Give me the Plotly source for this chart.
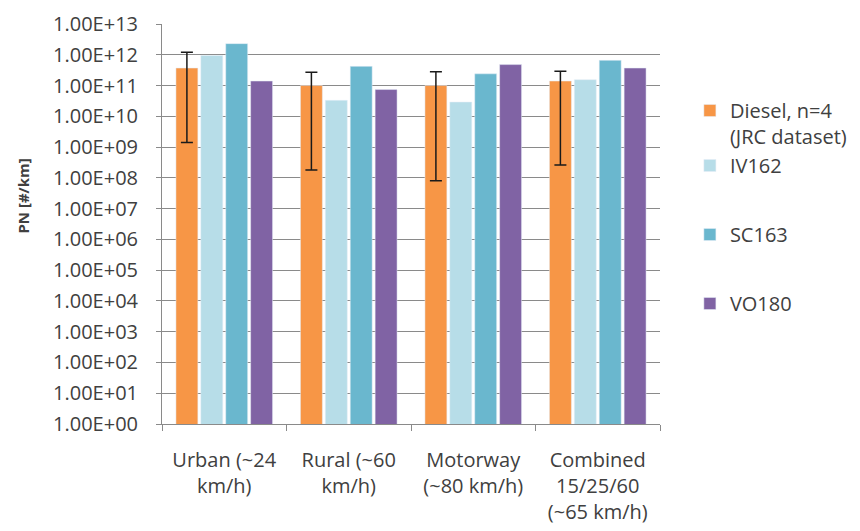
import plotly.graph_objects as go

categories = ["Urban (~24<br>km/h)", "Rural (~60<br>km/h)", "Motorway<br>(~80 km/h)", "Combined<br>15/25/60<br>(~65 km/h)"]
series_names = ["Diesel, n=4<br>(JRC dataset)", "IV162", "SC163", "VO180"]
diesel = [3.7e11, 1.0e11, 1.0e11, 1.4e11]
diesel_err_top = [1.2e12, 2.7e11, 2.8e11, 2.9e11]
diesel_err_bottom = [1.4e9, 1.8e8, 8.0e7, 2.6e8]
iv162 = [9.5e11, 3.3e10, 2.9e10, 1.55e11]
sc163 = [2.3e12, 4.2e11, 2.4e11, 6.6e11]
vo180 = [1.4e11, 7.4e10, 4.8e11, 3.7e11]
tick_vals = [10 ** k for k in range(0, 14)]
tick_text = ["1.00E+%02d" % k for k in range(0, 14)]

colors = ["#F79646", "#B7DDE8", "#6AB7CE", "#8063A4"]
font_family = "Open Sans, Lato, sans-serif"
text_color = "#404040"

fig = go.Figure()
fig.add_trace(go.Bar(
    x=categories, y=diesel, name=series_names[0], marker_color=colors[0],
    legendgroup="a",
    error_y=dict(type="data", symmetric=False,
                 array=[t - v for t, v in zip(diesel_err_top, diesel)],
                 arrayminus=[v - b for v, b in zip(diesel, diesel_err_bottom)],
                 color="#1a1a1a", thickness=1.5, width=6),
))
for name, vals, col, grp in zip(series_names[1:], [iv162, sc163, vo180], colors[1:], ["a", "c", "d"]):
    fig.add_trace(go.Bar(x=categories, y=vals, name=name, marker_color=col, legendgroup=grp))

fig.update_layout(
    width=860, height=531,
    margin=dict(l=154, r=208, t=16, b=115),
    paper_bgcolor="white", plot_bgcolor="white",
    barmode="group", bargap=0.2, bargroupgap=0.12,
    font=dict(family=font_family, color=text_color),
    legend=dict(x=1.06, y=0.8325, xanchor="left", yanchor="top",
                font=dict(size=20, color=text_color), traceorder="grouped",
                tracegroupgap=40, valign="top", itemwidth=30),
    showlegend=True,
)
fig.update_yaxes(
    type="log", range=[0, 13], tickvals=tick_vals, ticktext=tick_text,
    showgrid=True, gridcolor="#8a8a8a", gridwidth=1,
    showline=True, linecolor="#8a8a8a", linewidth=1,
    ticks="outside", ticklen=5, tickcolor="#8a8a8a",
    tickfont=dict(size=20, color=text_color), ticklabelstandoff=14,
    zeroline=False, automargin=False,
)
fig.update_xaxes(
    showline=True, linecolor="#8a8a8a", linewidth=1,
    ticks="outside", ticklen=6, tickcolor="#8a8a8a", tickson="boundaries",
    tickfont=dict(size=20, color=text_color), ticklabelstandoff=18,
    showgrid=False, automargin=False,
)
fig.add_annotation(
    text="<b>PN [#/km]</b>", textangle=-90, xref="paper", yref="paper",
    x=-0.28, y=0.57, xanchor="center", yanchor="middle", showarrow=False,
    font=dict(size=15, color=text_color, family=font_family),
)
fig.write_html("out.html")
